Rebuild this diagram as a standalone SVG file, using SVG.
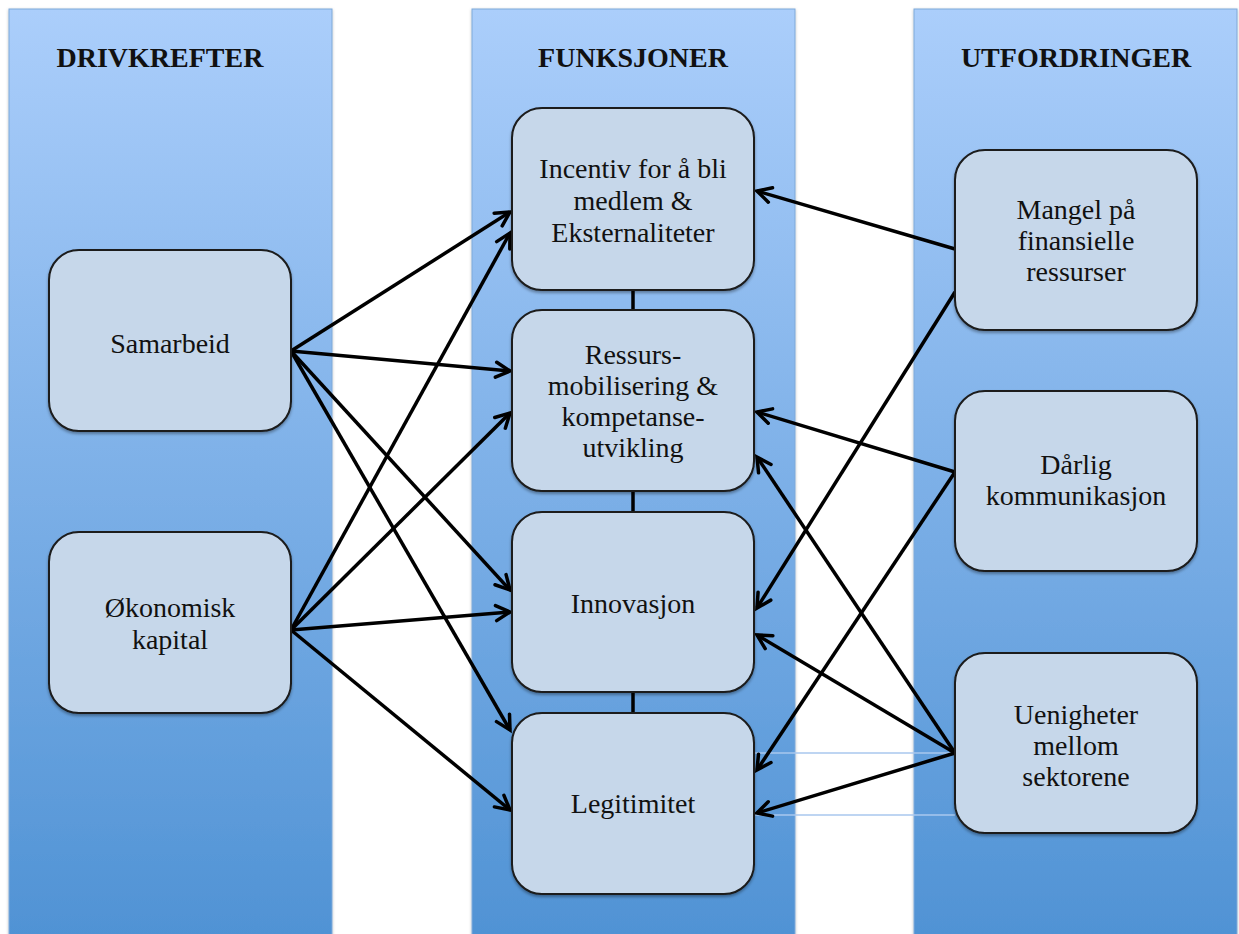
<svg xmlns="http://www.w3.org/2000/svg" width="1239" height="934" viewBox="0 0 1239 934">
  <defs>
    <linearGradient id="colGrad" x1="0" y1="0" x2="0" y2="1">
      <stop offset="0" stop-color="#abcefb"/>
      <stop offset="1" stop-color="#4f92d4"/>
    </linearGradient>
    <filter id="shadow" x="-10%" y="-10%" width="120%" height="125%">
      <feDropShadow dx="0" dy="2" stdDeviation="1.5" flood-color="#000" flood-opacity="0.35"/>
    </filter>
    <filter id="colShadow" x="-5%" y="-2%" width="110%" height="104%">
      <feDropShadow dx="0" dy="1" stdDeviation="1.5" flood-color="#000" flood-opacity="0.25"/>
    </filter>
    <marker id="arrow" markerUnits="userSpaceOnUse" viewBox="-18 -10 20 20" markerWidth="20" markerHeight="20" refX="0" refY="0" orient="auto" overflow="visible">
      <path d="M -14 -7.5 L 0 0 L -14 7.5" fill="none" stroke="#000" stroke-width="3.5" stroke-linecap="round" stroke-linejoin="miter"/>
    </marker>
    <style>
      .col { fill: url(#colGrad); stroke: #7ea9d9; stroke-width: 1; filter: url(#colShadow); }
      .box { fill: #c6d7ea; stroke: #1a1a1a; stroke-width: 2; filter: url(#shadow); }
      .hdr { font-family: "Liberation Serif", "Times New Roman", serif; font-weight: bold; font-size: 28px; fill: #111; text-anchor: middle; }
      .lbl { font-family: "Liberation Serif", "Times New Roman", serif; font-size: 28px; fill: #111; text-anchor: middle; }
      .conn line { stroke: #000; stroke-width: 3.5; }
      .arr { marker-end: url(#arrow); }
      .thin { stroke: #a9c7ee !important; stroke-width: 1.5 !important; }
    </style>
  </defs>

  <rect width="1239" height="934" fill="#ffffff"/>

  <!-- columns -->
  <g id="columns">
    <rect class="col" x="9" y="9" width="323" height="935"/>
    <rect class="col" x="472" y="9" width="323" height="935"/>
    <rect class="col" x="914" y="9" width="323" height="935"/>
    <text class="hdr" x="160" y="67">DRIVKREFTER</text>
    <text class="hdr" x="633" y="67">FUNKSJONER</text>
    <text class="hdr" x="1076" y="67">UTFORDRINGER</text>
  </g>

  <!-- connectors -->
  <g id="connectors" class="conn">
    <!-- vertical links between function boxes -->
    <line x1="633" y1="290" x2="633" y2="310"/>
    <line x1="633" y1="491" x2="633" y2="512"/>
    <line x1="633" y1="692" x2="633" y2="713"/>

    <!-- thin light lines -->
    <line class="thin" x1="754" y1="753" x2="955" y2="753"/>
    <line class="thin" x1="754" y1="815" x2="955" y2="815"/>

    <!-- Samarbeid -->
    <line class="arr" x1="291" y1="351" x2="510" y2="212"/>
    <line class="arr" x1="291" y1="351" x2="510" y2="371"/>
    <line class="arr" x1="291" y1="351" x2="510" y2="590"/>
    <line class="arr" x1="291" y1="351" x2="510" y2="730"/>

    <!-- Økonomisk kapital -->
    <line class="arr" x1="291" y1="630" x2="510" y2="233"/>
    <line class="arr" x1="291" y1="630" x2="510" y2="413"/>
    <line class="arr" x1="291" y1="630" x2="510" y2="612"/>
    <line class="arr" x1="291" y1="630" x2="510" y2="810"/>

    <!-- Mangel på finansielle ressurser -->
    <line class="arr" x1="955" y1="249" x2="757" y2="191"/>
    <line class="arr" x1="955" y1="292" x2="757" y2="608"/>

    <!-- Dårlig kommunikasjon -->
    <line class="arr" x1="955" y1="472" x2="757" y2="412"/>
    <line class="arr" x1="955" y1="472" x2="757" y2="770"/>

    <!-- Uenigheter mellom sektorene -->
    <line class="arr" x1="955" y1="753" x2="757" y2="457"/>
    <line class="arr" x1="955" y1="753" x2="757" y2="635"/>
    <line class="arr" x1="955" y1="753" x2="757" y2="813"/>
  </g>

  <!-- left nodes -->
  <g id="node-samarbeid">
    <rect class="box" x="49" y="250" width="242" height="181" rx="30"/>
    <text class="lbl" x="170" y="353">Samarbeid</text>
  </g>
  <g id="node-okonomisk">
    <rect class="box" x="49" y="532" width="242" height="181" rx="30"/>
    <text class="lbl" x="170" y="617">Økonomisk</text>
    <text class="lbl" x="170" y="649">kapital</text>
  </g>

  <!-- middle nodes -->
  <g id="node-incentiv">
    <rect class="box" x="512" y="108" width="242" height="182" rx="30"/>
    <text class="lbl" x="633" y="178">Incentiv for å bli</text>
    <text class="lbl" x="633" y="210">medlem &amp;</text>
    <text class="lbl" x="633" y="242">Eksternaliteter</text>
  </g>
  <g id="node-ressurs">
    <rect class="box" x="512" y="310" width="242" height="181" rx="30"/>
    <text class="lbl" x="633" y="364">Ressurs-</text>
    <text class="lbl" x="633" y="395">mobilisering &amp;</text>
    <text class="lbl" x="633" y="426">kompetanse-</text>
    <text class="lbl" x="633" y="457">utvikling</text>
  </g>
  <g id="node-innovasjon">
    <rect class="box" x="512" y="512" width="242" height="180" rx="30"/>
    <text class="lbl" x="633" y="613">Innovasjon</text>
  </g>
  <g id="node-legitimitet">
    <rect class="box" x="512" y="713" width="242" height="181" rx="30"/>
    <text class="lbl" x="633" y="813">Legitimitet</text>
  </g>

  <!-- right nodes -->
  <g id="node-mangel">
    <rect class="box" x="955" y="150" width="242" height="180" rx="30"/>
    <text class="lbl" x="1076" y="219">Mangel på</text>
    <text class="lbl" x="1076" y="250">finansielle</text>
    <text class="lbl" x="1076" y="281">ressurser</text>
  </g>
  <g id="node-darlig">
    <rect class="box" x="955" y="391" width="242" height="180" rx="30"/>
    <text class="lbl" x="1076" y="474">Dårlig</text>
    <text class="lbl" x="1076" y="505">kommunikasjon</text>
  </g>
  <g id="node-uenigheter">
    <rect class="box" x="955" y="653" width="242" height="180" rx="30"/>
    <text class="lbl" x="1076" y="724">Uenigheter</text>
    <text class="lbl" x="1076" y="755">mellom</text>
    <text class="lbl" x="1076" y="786">sektorene</text>
  </g>
</svg>
